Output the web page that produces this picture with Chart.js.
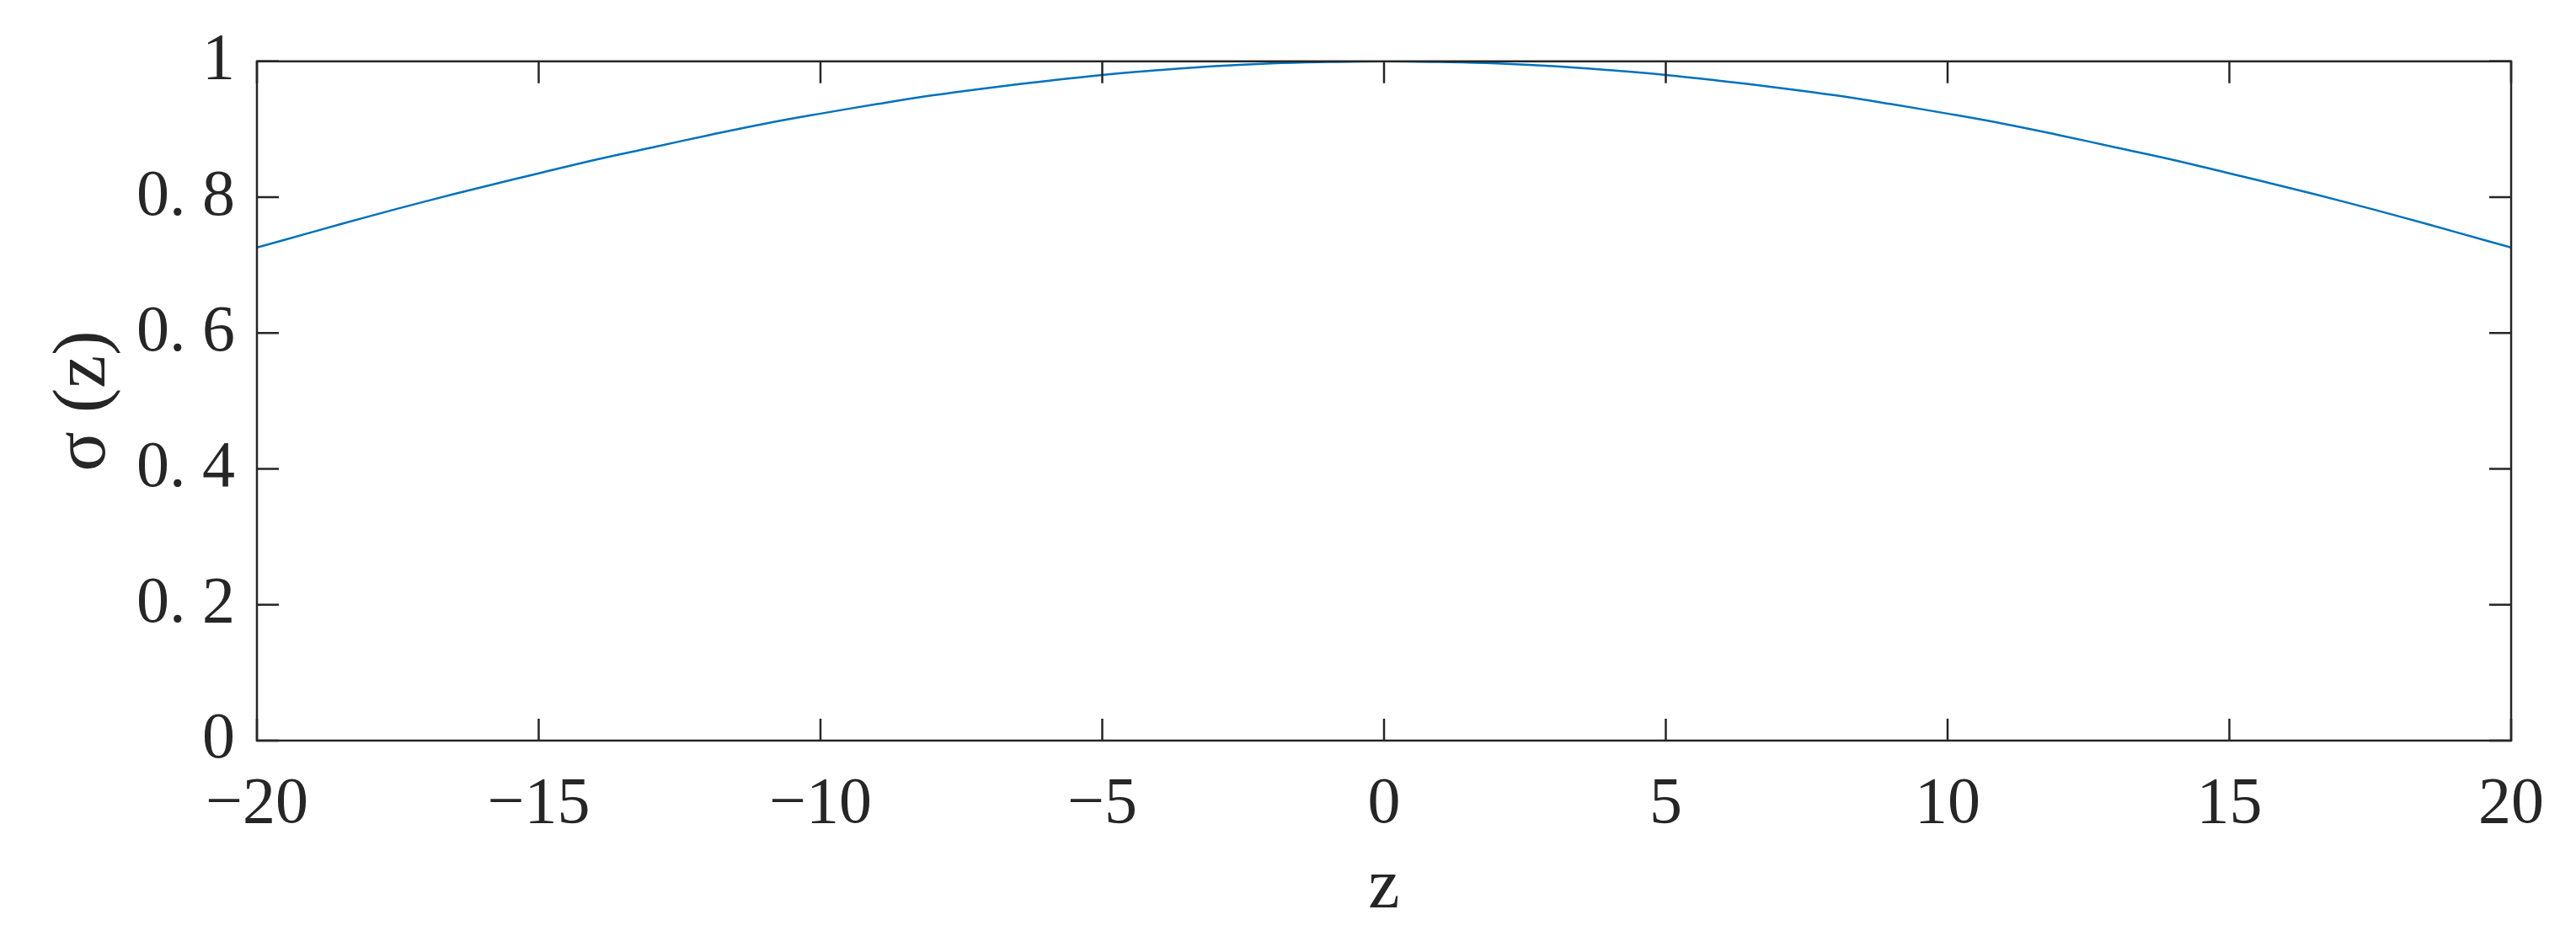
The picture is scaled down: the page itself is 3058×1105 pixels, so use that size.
<!DOCTYPE html>
<html><head><meta charset="utf-8">
<script src="https://cdn.jsdelivr.net/npm/chart.js@4.4.0/dist/chart.umd.min.js"></script>
<style>html,body{margin:0;padding:0;background:#fff;overflow:hidden}#wrap{width:3058px;height:1105px;position:relative}</style>
</head><body><div id="wrap"><canvas id="c"></canvas></div>
<script>
const zValues = [-20,-19,-18,-17,-16,-15,-14,-13,-12,-11,-10,-9,-8,-7,-6,-5,-4,-3,-2,-1,0,1,2,3,4,5,6,7,8,9,10,11,12,13,14,15,16,17,18,19,20];
const sigmaValues = [0.726,0.749,0.772,0.794,0.815,0.835,0.855,0.873,0.891,0.908,0.923,0.937,0.950,0.961,0.971,0.980,0.987,0.993,0.997,0.999,1.000,0.999,0.997,0.993,0.987,0.980,0.971,0.961,0.950,0.937,0.923,0.908,0.891,0.873,0.855,0.835,0.815,0.794,0.772,0.749,0.726];
const xTickValues = [-20,-15,-10,-5,0,5,10,15,20];
const xTickLabels = ['\u221220','\u221215','\u221210','\u22125','0','5','10','15','20'];
const yTickValues = [0,0.2,0.4,0.6,0.8,1];
const yTickLabels = ['0','0. 2','0. 4','0. 6','0. 8','1'];
const xTitle = 'z';
const yTitle = '\u03c3 (z)';

const FONT = "'Liberation Serif','Times New Roman',serif";
const AXIS_COLOR = '#262626';

const boxTicks = {
  id: 'boxTicks',
  afterDraw(chart) {
    const {ctx, chartArea: a, scales: {x, y}} = chart;
    ctx.save();
    ctx.strokeStyle = AXIS_COLOR;
    ctx.lineWidth = 2.5;
    ctx.strokeRect(a.left, a.top, a.right - a.left, a.bottom - a.top);
    const L = 26;
    ctx.beginPath();
    xTickValues.forEach(v => {
      const px = x.getPixelForValue(v);
      ctx.moveTo(px, a.bottom); ctx.lineTo(px, a.bottom - L);
      ctx.moveTo(px, a.top); ctx.lineTo(px, a.top + L);
    });
    yTickValues.forEach(v => {
      const py = y.getPixelForValue(v);
      ctx.moveTo(a.left, py); ctx.lineTo(a.left + L, py);
      ctx.moveTo(a.right, py); ctx.lineTo(a.right - L, py);
    });
    ctx.stroke();
    ctx.restore();
  }
};

new Chart(document.getElementById('c'), {
  type: 'line',
  data: {
    datasets: [{
      data: zValues.map((z, i) => ({x: z, y: sigmaValues[i]})),
      borderColor: '#0072BD',
      borderWidth: 2.5,
      pointRadius: 0,
      tension: 0.4,
      fill: false
    }]
  },
  options: {
    responsive: true,
    maintainAspectRatio: false,
    animation: false,
    devicePixelRatio: 1,
    layout: {padding: {top: 63, right: 77, left: 0, bottom: 0}},
    plugins: {legend: {display: false}, tooltip: {enabled: false}},
    scales: {
      x: {
        type: 'linear', min: -20, max: 20,
        afterBuildTicks: s => { s.ticks = xTickValues.map(v => ({value: v})); },
        afterFit: s => { s.height = 226; },
        grid: {display: false, drawTicks: false},
        border: {display: false},
        ticks: {
          color: '#262626', padding: 30, maxRotation: 0,
          font: {family: FONT, size: 78},
          callback: v => xTickLabels[xTickValues.indexOf(v)]
        },
        title: {display: true, text: xTitle, color: '#262626', font: {family: FONT, size: 84}, padding: {top: 0, bottom: 0}}
      },
      y: {
        type: 'linear', min: 0, max: 1,
        afterBuildTicks: s => { s.ticks = yTickValues.map(v => ({value: v})); },
        afterFit: s => { s.width = 305; },
        grid: {display: false, drawTicks: false},
        border: {display: false},
        ticks: {
          color: '#262626', padding: 26,
          font: {family: FONT, size: 78},
          callback: v => yTickLabels[yTickValues.indexOf(v)]
        },
        title: {display: true, text: yTitle, color: '#262626', font: {family: FONT, size: 88}, padding: {top: 48, bottom: 0}}
      }
    }
  },
  plugins: [boxTicks]
});
</script>
</body></html>
